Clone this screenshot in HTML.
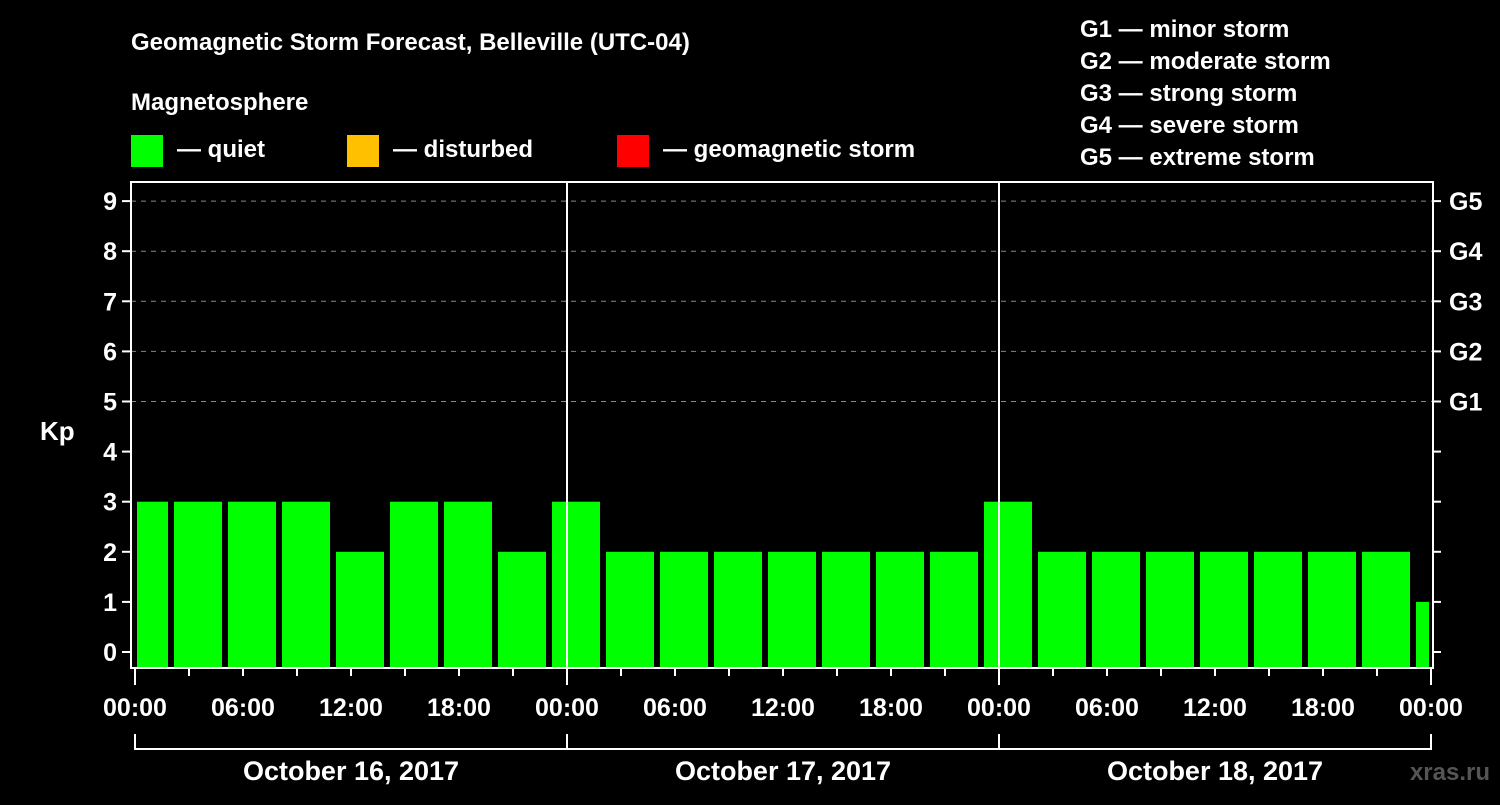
<!DOCTYPE html>
<html><head><meta charset="utf-8"><style>
body{margin:0;background:#000;width:1500px;height:800px;overflow:hidden}
svg text{font-family:"Liberation Sans",Arial,sans-serif;font-weight:bold;fill:#fff}
</style></head><body>
<svg id="c" width="1500" height="800">
<text x="131" y="50" font-size="24">Geomagnetic Storm Forecast, Belleville (UTC-04)</text>
<text x="131" y="110" font-size="24">Magnetosphere</text>
<g><rect x="131" y="135" width="32" height="32" fill="#00ff00"/><text x="177" y="157" font-size="24">— quiet</text></g>
<g><rect x="347" y="135" width="32" height="32" fill="#ffc000"/><text x="393" y="157" font-size="24">— disturbed</text></g>
<g><rect x="617" y="135" width="32" height="32" fill="#ff0000"/><text x="663" y="157" font-size="24">— geomagnetic storm</text></g>
<g font-size="24">
<text x="1080" y="37">G1 — minor storm</text>
<text x="1080" y="69">G2 — moderate storm</text>
<text x="1080" y="101">G3 — strong storm</text>
<text x="1080" y="133">G4 — severe storm</text>
<text x="1080" y="165">G5 — extreme storm</text>
</g>
<text x="40" y="440" font-size="26">Kp</text>
<text x="1490" y="780" font-size="24" text-anchor="end" style="fill:#555">xras.ru</text>
<g id="grid"></g><g id="bars"></g><g id="axes"></g>
</svg>
<script>
const kpValues=[3,3,3,3,2,3,3,2,3,2,2,2,2,2,2,2,3,2,2,2,2,2,2,2,1];
const yTicks=[0,1,2,3,4,5,6,7,8,9];
const gLabels=["G1","G2","G3","G4","G5"];
const gLevels=[5,6,7,8,9];
const xLabels=["00:00","06:00","12:00","18:00"];
const dayLabels=["October 16, 2017","October 17, 2017","October 18, 2017"];
const NS="http://www.w3.org/2000/svg";
const L=131,R=1433,T=182,B=668,day0=135,pxH=18;
const y=v=>652-v*50.1;
const x=h=>day0+h*pxH;
function mk(tag,attrs,parent,txt){const e=document.createElementNS(NS,tag);for(const k in attrs)e.setAttribute(k,attrs[k]);if(txt!=null)e.textContent=txt;parent.appendChild(e);return e;}
const grid=document.getElementById('grid'),bars=document.getElementById('bars'),axes=document.getElementById('axes');
yTicks.forEach(v=>{
  if(v>=5){const g=mk('line',{x1:L,x2:R,y1:y(v),y2:y(v),stroke:'#888','stroke-dasharray':'5,5','stroke-width':1},grid);
  
  }
  const t=mk('line',{x1:L-9,x2:L,y1:y(v),y2:y(v),stroke:'#fff','stroke-width':2},axes);
  
  
  mk('line',{x1:R,x2:R+8,y1:y(v),y2:y(v),stroke:'#fff','stroke-width':2},axes);
  const l=mk('text',{x:L-14,y:y(v)+9,'font-size':25,'text-anchor':'end'},axes,String(v));
  
  
});
gLevels.forEach((v,i)=>{
  const l=mk('text',{x:R+16,y:y(v)+9,'font-size':25},axes,gLabels[i]);
  
  
});
kpValues.forEach((v,k)=>{
  const c=x(3*k+0.5);let x0=Math.max(c-24,L+6),x1=Math.min(c+24,R-4);
  const col=v>=5?'#ff0000':(v>=4?'#ffc000':'#00ff00');
  const b=mk('rect',{x:x0,y:y(v),width:x1-x0,height:B-y(v),fill:col},bars);
  
  
});
mk('rect',{x:L,y:T,width:R-L,height:B-T,fill:'none',stroke:'#fff','stroke-width':2},axes);
for(let d=0;d<3;d++){
  if(d>0){const v=mk('line',{x1:x(24*d),x2:x(24*d),y1:T,y2:B,stroke:'#fff','stroke-width':2},axes);
  
  }
  for(let h=0;h<24;h+=3){mk('line',{x1:x(24*d+h),x2:x(24*d+h),y1:B,y2:B+(h==0?17:8),stroke:'#fff','stroke-width':2},axes);}
  xLabels.forEach((s,i)=>{
    const l=mk('text',{x:x(24*d+6*i),y:716,'font-size':25,'text-anchor':'middle'},axes,s);
    
    
  });
  const dl=mk('text',{x:x(24*d+12),y:780,'font-size':27,'text-anchor':'middle'},axes,dayLabels[d]);
  
  
}
mk('line',{x1:x(72),x2:x(72),y1:B,y2:B+17,stroke:'#fff','stroke-width':2},axes);
mk('text',{x:x(72),y:716,'font-size':25,'text-anchor':'middle'},axes,"00:00");
mk('line',{x1:x(0),x2:x(72),y1:749,y2:749,stroke:'#fff','stroke-width':2},axes);
for(let d=0;d<=3;d++)mk('line',{x1:x(24*d),x2:x(24*d),y1:734,y2:750,stroke:'#fff','stroke-width':2},axes);
</script>
</body></html>
